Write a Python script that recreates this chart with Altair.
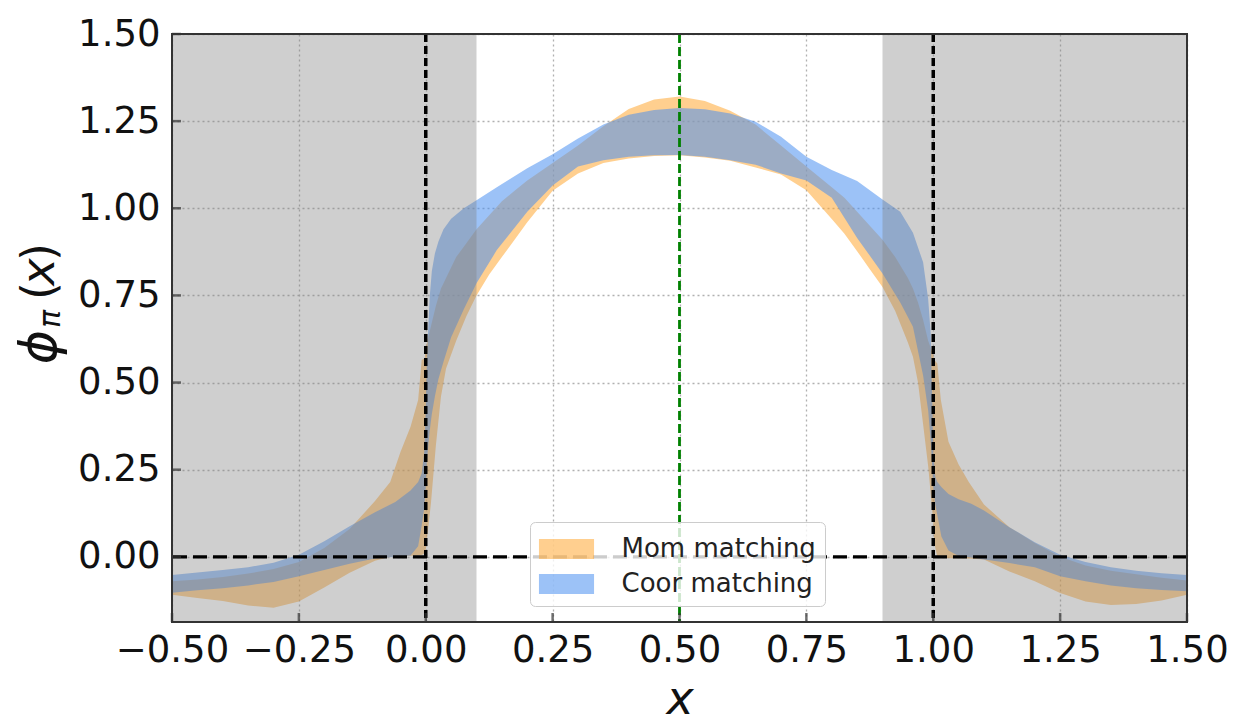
import altair as alt
import pandas as pd

# ---------------- data ----------------
series_names = ["Mom matching", "Coor matching"]
series_colors = ["#ffa733", "#4a8ff0"]

x_mom = [-0.5, -0.45, -0.4, -0.35, -0.3, -0.25, -0.2, -0.15, -0.1, -0.07, -0.05, -0.03,
         -0.015, -0.008, -0.002, 0.0, 0.01, 0.02, 0.03, 0.04, 0.06, 0.08, 0.1, 0.125, 0.15,
         0.175, 0.2, 0.25, 0.3, 0.35, 0.4, 0.45, 0.5, 0.55, 0.6, 0.65, 0.7, 0.75, 0.8, 0.825,
         0.85, 0.875, 0.9, 0.925, 0.95, 0.96, 0.97, 0.98, 0.99, 1.0, 1.002, 1.008, 1.015,
         1.03, 1.05, 1.07, 1.1, 1.15, 1.2, 1.25, 1.3, 1.35, 1.4, 1.45, 1.5]
mom_lo = [-0.109, -0.118, -0.127, -0.14, -0.146, -0.128, -0.088, -0.046, -0.011, 0.0, 0.002, 0.003,
          0.004, 0.005, 0.01, 0.02, 0.15, 0.32, 0.46, 0.54, 0.62, 0.69, 0.75, 0.81, 0.86,
          0.91, 0.96, 1.05, 1.1, 1.13, 1.143, 1.15, 1.152, 1.146, 1.136, 1.117, 1.097, 1.052, 0.969, 0.927,
          0.877, 0.825, 0.774, 0.705, 0.615, 0.574, 0.5, 0.38, 0.26, 0.1, 0.04, 0.0, -0.003,
          -0.004, -0.004, -0.005, -0.008, -0.042, -0.07, -0.104, -0.128, -0.138, -0.135, -0.125, -0.109]
mom_hi = [-0.07, -0.065, -0.058, -0.048, -0.035, -0.015, 0.025, 0.08, 0.16, 0.215, 0.3, 0.373,
          0.45, 0.565, 0.57, 0.6, 0.66, 0.72, 0.77, 0.8, 0.86, 0.9, 0.94, 0.98, 1.02,
          1.05, 1.08, 1.13, 1.18, 1.235, 1.285, 1.312, 1.321, 1.308, 1.28, 1.24, 1.18, 1.12, 1.06, 1.03,
          0.99, 0.95, 0.91, 0.86, 0.8, 0.77, 0.73, 0.68, 0.62, 0.58, 0.565, 0.555, 0.45,
          0.33, 0.265, 0.215, 0.15, 0.085, 0.04, 0.0, -0.025, -0.04, -0.05, -0.06, -0.068]

x_coor = [-0.5, -0.45, -0.4, -0.35, -0.3, -0.25, -0.2, -0.15, -0.1, -0.06, -0.03, -0.015,
          -0.008, -0.003, 0.0, 0.002, 0.005, 0.008, 0.012, 0.018, 0.025, 0.035, 0.05, 0.075,
          0.1, 0.14, 0.2, 0.25, 0.3, 0.35, 0.4, 0.45, 0.5, 0.55, 0.6, 0.65, 0.7, 0.75, 0.8,
          0.85, 0.9, 0.935, 0.96, 0.98, 0.99, 0.995, 0.998, 1.0, 1.004, 1.008, 1.016, 1.03,
          1.05, 1.075, 1.1, 1.15, 1.2, 1.25, 1.3, 1.35, 1.4, 1.45, 1.5]
coor_lo = [-0.103, -0.096, -0.09, -0.082, -0.072, -0.056, -0.038, -0.02, -0.005, 0.0, 0.004, 0.03,
           0.09, 0.14, 0.2, 0.27, 0.32, 0.364, 0.41, 0.46, 0.51, 0.56, 0.63, 0.71,
           0.785, 0.88, 0.99, 1.065, 1.12, 1.138, 1.148, 1.152, 1.153, 1.148, 1.138, 1.125, 1.1, 1.08, 1.03,
           0.915, 0.813, 0.73, 0.66, 0.52, 0.42, 0.33, 0.26, 0.2, 0.15, 0.12, 0.058, 0.018,
           0.002, -0.002, -0.008, -0.018, -0.03, -0.056, -0.07, -0.082, -0.09, -0.095, -0.099]
coor_hi = [-0.052, -0.045, -0.038, -0.03, -0.017, 0.006, 0.045, 0.088, 0.128, 0.157, 0.19, 0.215,
           0.24, 0.3, 0.42, 0.55, 0.66, 0.75, 0.82, 0.87, 0.905, 0.94, 0.97, 1.0,
           1.023, 1.06, 1.115, 1.155, 1.2, 1.24, 1.268, 1.282, 1.288, 1.284, 1.272, 1.248, 1.205, 1.148, 1.11,
           1.078, 1.025, 0.99, 0.93, 0.845, 0.74, 0.64, 0.45, 0.3, 0.23, 0.215, 0.2, 0.18,
           0.165, 0.152, 0.133, 0.085, 0.042, 0.006, -0.015, -0.03, -0.04, -0.047, -0.052]

x_ticks = [-0.5, -0.25, 0.0, 0.25, 0.5, 0.75, 1.0, 1.25, 1.5]
y_ticks = [0.0, 0.25, 0.5, 0.75, 1.0, 1.25, 1.5]
x_domain = [-0.5, 1.5]
y_domain = [-0.187, 1.5]
shade_start = [-0.5, 0.9]
shade_end = [0.1, 1.5]
black_vlines = [0.0, 1.0]
black_hlines = [0.0]
green_vlines = [0.5]

# ---------------- tables ----------------
df_mom = pd.DataFrame({"x": x_mom, "lo": mom_lo, "hi": mom_hi, "series": series_names[0]})
df_coor = pd.DataFrame({"x": x_coor, "lo": coor_lo, "hi": coor_hi, "series": series_names[1]})

W, H = 1015, 588
FONT = "DejaVu Sans"
xs = alt.Scale(domain=x_domain, nice=False, zero=False)
ys = alt.Scale(domain=y_domain, nice=False, zero=False)
cscale = alt.Scale(domain=series_names, range=series_colors)

x_axis = alt.Axis(values=x_ticks, format=".2f", labelFontSize=37, labelFont=FONT,
                  labelColor="#111111", ticks=False, domain=False, grid=True,
                  gridDash=[2, 3], gridColor="#b0b0b0", gridWidth=1.3, labelPadding=10,
                  labelOverlap=False, labelFlush=False, title="x", titleFont=FONT,
                  titleFontSize=46, titleFontStyle="italic", titleFontWeight="normal",
                  titlePadding=9, titleColor="#111111")
y_axis = alt.Axis(values=y_ticks, format=".2f", labelFontSize=37, labelFont=FONT,
                  labelColor="#111111", ticks=False, domain=False, grid=True,
                  gridDash=[2, 3], gridColor="#b0b0b0", gridWidth=1.3, labelPadding=12,
                  labelOverlap=False, title="")

legend = alt.Legend(orient="none", legendX=358, legendY=488, direction="vertical",
                    fillColor="rgba(255,255,255,0.8)", strokeColor="#cccccc", cornerRadius=5,
                    padding=9, labelFontSize=26, labelFont=FONT, labelColor="#222222",
                    labelLimit=500,
                    symbolType="M-1.53,-0.55L1.53,-0.55L1.53,0.55L-1.53,0.55Z",
                    symbolSize=1296, symbolOffset=9.5, labelOffset=37, symbolStrokeWidth=0,
                    symbolOpacity=0.55, rowPadding=4)


def X(field):
    return alt.X(field, scale=xs, axis=x_axis)


def Y(field):
    return alt.Y(field, scale=ys, axis=y_axis)


band_mom = alt.Chart(df_mom).mark_area(opacity=0.55, clip=True).encode(
    x=X("x:Q"), y=Y("lo:Q"), y2="hi:Q",
    color=alt.Color("series:N", scale=cscale, legend=legend, title=None),
)
band_coor = alt.Chart(df_coor).mark_area(opacity=0.55, clip=True).encode(
    x=X("x:Q"), y=Y("lo:Q"), y2="hi:Q",
    color=alt.Color("series:N", scale=cscale, legend=legend, title=None),
)

shade = alt.Chart(pd.DataFrame({"a": shade_start, "b": shade_end})).mark_rect(
    color="#808080", opacity=0.375).encode(x=X("a:Q"), x2="b:Q")

vlines = alt.Chart(pd.DataFrame({"v": black_vlines})).mark_rule(
    color="black", strokeDash=[8, 4], strokeWidth=3.5).encode(x=X("v:Q"))
hlines = alt.Chart(pd.DataFrame({"h": black_hlines})).mark_rule(
    color="black", strokeDash=[14, 6], strokeWidth=3.2).encode(y=Y("h:Q"))
glines = alt.Chart(pd.DataFrame({"v": green_vlines})).mark_rule(
    color="#008000", strokeDash=[9, 4], strokeWidth=2.8).encode(x=X("v:Q"))

yticks = alt.Chart(pd.DataFrame({"t": y_ticks})).mark_tick(
    orient="horizontal", color="#333333", size=9, thickness=2.5).encode(
    y=Y("t:Q"), x=alt.value(4.5))
xticks = alt.Chart(pd.DataFrame({"t": x_ticks})).mark_tick(
    orient="vertical", color="#333333", size=9, thickness=2.5).encode(
    x=X("t:Q"), y=alt.value(H - 4.5))

frame = alt.Chart(pd.DataFrame({"x0": [x_domain[0]], "x1": [x_domain[1]],
                                "y0": [y_domain[0]], "y1": [y_domain[1]]})).mark_rect(
    filled=False, stroke="#333333", strokeWidth=2).encode(
    x=X("x0:Q"), x2="x1:Q", y=Y("y0:Q"), y2="y1:Q")


def title_piece(txt, px, py, size, style):
    return alt.Chart(pd.DataFrame({"t": [txt]})).mark_text(
        font=FONT, fontSize=size, fontStyle=style, angle=270, align="center",
        baseline="middle", color="#111111").encode(
        text="t:N", x=alt.value(px), y=alt.value(py))


ytitle = (title_piece("ϕ", -132, 313, 52, "italic")
          + title_piece("π", -121, 285, 30, "italic")
          + title_piece("(", -132, 257, 46, "normal")
          + title_piece("x", -132, 238, 46, "italic")
          + title_piece(")", -132, 218, 46, "normal"))

chart = alt.layer(band_mom, band_coor, shade, vlines, hlines, glines, yticks, xticks, frame,
                  ytitle).properties(
    width=W, height=H,
    padding={"left": 172, "top": 34, "right": 52, "bottom": 102},
    autosize=alt.AutoSizeParams(type="none"),
    background="white",
).configure_view(strokeWidth=0)

chart.save("out.html", embed_options={"renderer": "svg", "actions": False})
